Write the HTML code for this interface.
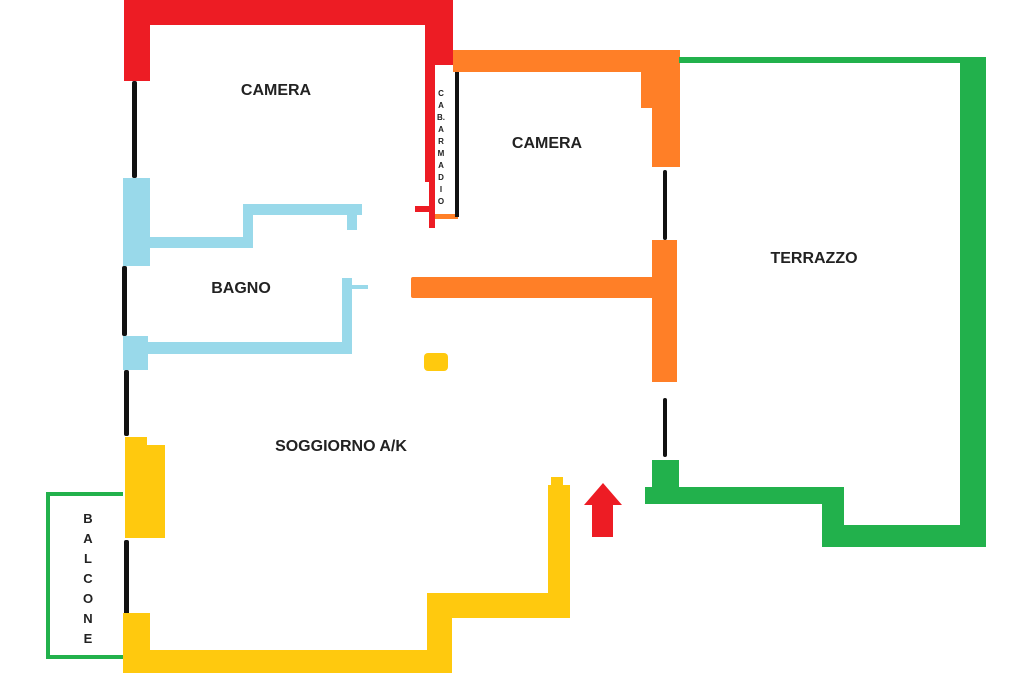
<!DOCTYPE html>
<html><head><meta charset="utf-8"><style>
html,body{margin:0;padding:0;background:#fff}
svg{display:block}
text{font-family:"Liberation Sans",sans-serif;font-weight:bold;fill:#222}
</style></head><body>
<svg width="1024" height="683" viewBox="0 0 1024 683" xmlns="http://www.w3.org/2000/svg">
<!-- red -->
<g fill="#ed1c24">
<rect x="124" y="0" width="329" height="25"/>
<rect x="124" y="0" width="26" height="81"/>
<rect x="425" y="0" width="28" height="65"/>
<rect x="425" y="64" width="10" height="118"/>
<rect x="429" y="180" width="6" height="48"/>
<rect x="415" y="206" width="20" height="6"/>
</g>
<!-- orange -->
<g fill="#ff7f27">
<rect x="453" y="50" width="227" height="22"/>
<rect x="641" y="50" width="39" height="58"/>
<rect x="652" y="50" width="28" height="117"/>
<rect x="435" y="214" width="23" height="5"/>
<rect x="652" y="240" width="25" height="142"/>
<rect x="411" y="277" width="266" height="21" rx="2"/>
</g>
<!-- black doors -->
<g fill="#111">
<rect x="455" y="72" width="4" height="145"/>
<rect x="663" y="170" width="4" height="70" rx="2"/>
<rect x="663" y="398" width="4" height="59" rx="2"/>
<rect x="132" y="81" width="5" height="97" rx="2"/>
<rect x="122" y="266" width="5" height="70" rx="2"/>
<rect x="124" y="370" width="5" height="66" rx="2"/>
<rect x="124" y="540" width="5" height="75" rx="2"/>
</g>
<!-- blue -->
<g fill="#99d9ea">
<rect x="123" y="178" width="27" height="88"/>
<rect x="150" y="237" width="100" height="11"/>
<rect x="243" y="204" width="10" height="44"/>
<rect x="243" y="204" width="119" height="11"/>
<rect x="347" y="204" width="10" height="26"/>
<rect x="123" y="336" width="25" height="34"/>
<rect x="148" y="342" width="204" height="12"/>
<rect x="342" y="278" width="10" height="76"/>
<rect x="352" y="285" width="16" height="4"/>
</g>
<!-- yellow -->
<g fill="#ffc90e">
<rect x="424" y="353" width="24" height="18" rx="4"/>
<rect x="125" y="437" width="22" height="101"/>
<rect x="125" y="445" width="40" height="93"/>
<rect x="123" y="613" width="27" height="60"/>
<rect x="123" y="650" width="329" height="23"/>
<rect x="427" y="593" width="25" height="80"/>
<rect x="427" y="593" width="143" height="25"/>
<rect x="548" y="485" width="22" height="133"/>
<rect x="551" y="477" width="12" height="10"/>
</g>
<!-- green -->
<g fill="#22b14c">
<rect x="679" y="57" width="307" height="6"/>
<rect x="960" y="57" width="26" height="490"/>
<rect x="822" y="525" width="164" height="22"/>
<rect x="822" y="487" width="22" height="60"/>
<rect x="645" y="487" width="199" height="17"/>
<rect x="652" y="460" width="27" height="30"/>
</g>
<path d="M123 494 H48 V657 H123" fill="none" stroke="#22b14c" stroke-width="4"/>
<!-- arrow -->
<path d="M603 483 L622 505 L613 505 L613 537 L592 537 L592 505 L584 505 Z" fill="#ed1c24"/>
<!-- labels -->
<text x="276" y="95" font-size="16" text-anchor="middle">CAMERA</text>
<text x="547" y="148" font-size="16" text-anchor="middle">CAMERA</text>
<text x="241" y="293" font-size="16" text-anchor="middle">BAGNO</text>
<text x="814" y="263" font-size="16" text-anchor="middle">TERRAZZO</text>
<text x="341" y="451" font-size="16" text-anchor="middle">SOGGIORNO A/K</text>
<g font-size="8" text-anchor="middle" style="font-weight:normal">
<text x="441" y="96">C</text><text x="441" y="108">A</text><text x="441" y="120">B.</text><text x="441" y="132">A</text><text x="441" y="144">R</text><text x="441" y="156">M</text><text x="441" y="168">A</text><text x="441" y="180">D</text><text x="441" y="192">I</text><text x="441" y="204">O</text>
</g>
<g font-size="13" text-anchor="middle" style="font-weight:normal">
<text x="88" y="523">B</text><text x="88" y="543">A</text><text x="88" y="563">L</text><text x="88" y="583">C</text><text x="88" y="603">O</text><text x="88" y="623">N</text><text x="88" y="643">E</text>
</g>
</svg>
</body></html>
